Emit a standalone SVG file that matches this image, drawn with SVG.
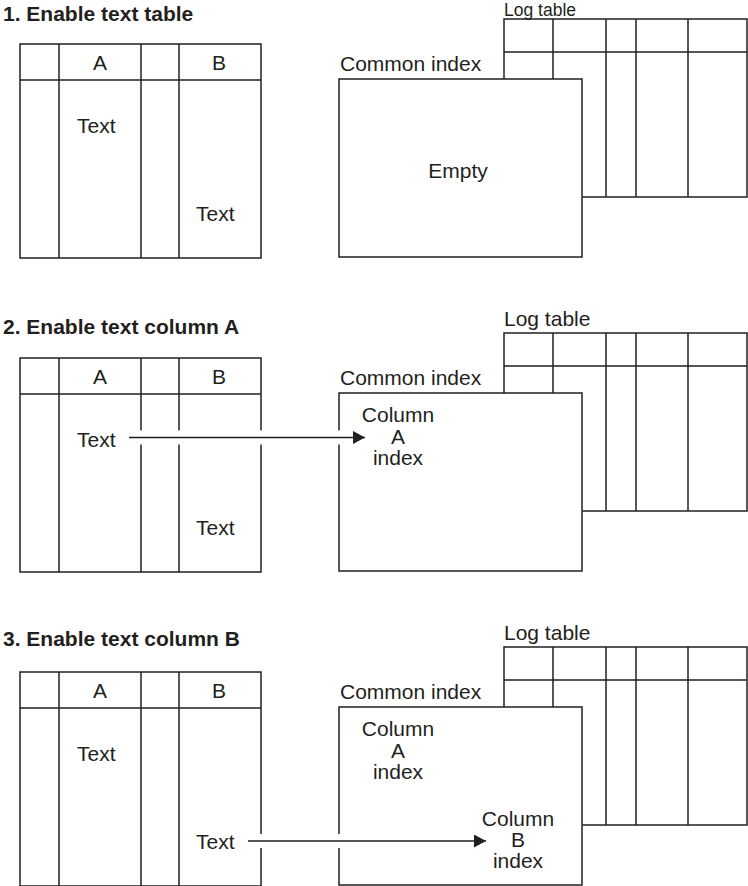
<svg xmlns="http://www.w3.org/2000/svg" width="748" height="886" viewBox="0 0 748 886">
<style>
.ln{fill:none;stroke:#231f20;stroke-width:1.5}
.box{fill:#fff;stroke:#231f20;stroke-width:1.5}
.t{font-family:"Liberation Sans",Arial,Helvetica,sans-serif;font-size:21px;fill:#231f20}
.h{font-family:"Liberation Sans",Arial,Helvetica,sans-serif;font-size:21px;font-weight:bold;fill:#231f20}
.m{text-anchor:middle}
.halo{stroke:#fff;stroke-width:14;fill:none}
.arr{stroke:#231f20;stroke-width:1.5;fill:none;marker-end:url(#ah)}
</style>
<defs>
<marker id="ah" markerUnits="userSpaceOnUse" markerWidth="14" markerHeight="14" refX="12" refY="6.5" orient="auto">
<path d="M0,0 L12,6.5 L0,13 Z" fill="#231f20"/>
</marker>
<g id="texttable">
<rect class="box" x="20" y="0" width="241" height="214"/>
<path class="ln" d="M20,36 H261 M59,0 V214 M141,0 V214 M179,0 V214"/>
</g>
<g id="logtable">
<rect class="box" x="504" y="0" width="243" height="178"/>
<path class="ln" d="M504,33 H747 M553,0 V178 M606,0 V178 M636,0 V178 M688,0 V178"/>
</g>
</defs>
<rect width="748" height="886" fill="#fff"/>

<g id="panel1">
<text class="h" x="3" y="21">1. Enable text table</text>
<g id="table1"><use href="#texttable" y="44"/>
<text class="t m" x="100" y="70">A</text><text class="t m" x="219" y="70">B</text>
<text class="t" x="77" y="133">Text</text><text class="t" x="196" y="221">Text</text></g>
<g id="log1"><use href="#logtable" y="19"/><text class="t" x="504" y="16" style="font-size:17.5px">Log table</text></g>
<g id="index1"><text class="t" x="340" y="71">Common index</text>
<rect class="box" x="339" y="79" width="243" height="178"/>
<text class="t m" x="458" y="178">Empty</text></g>
</g>

<g id="panel2">
<text class="h" x="3" y="334">2. Enable text column A</text>
<g id="table2"><use href="#texttable" y="358"/>
<text class="t m" x="100" y="384">A</text><text class="t m" x="219" y="384">B</text>
<text class="t" x="77" y="447">Text</text><text class="t" x="196" y="535">Text</text></g>
<g id="log2"><text class="t" x="504" y="326">Log table</text><use href="#logtable" y="333"/></g>
<g id="index2"><text class="t" x="340" y="385">Common index</text>
<rect class="box" x="339" y="393" width="243" height="178"/></g>
</g>

<g id="panel3">
<text class="h" x="3" y="646">3. Enable text column B</text>
<g id="table3"><use href="#texttable" y="672"/>
<text class="t m" x="100" y="698">A</text><text class="t m" x="219" y="698">B</text>
<text class="t" x="77" y="761">Text</text><text class="t" x="196" y="849">Text</text></g>
<g id="log3"><text class="t" x="504" y="640">Log table</text><use href="#logtable" y="647"/></g>
<g id="index3"><text class="t" x="340" y="699">Common index</text>
<rect class="box" x="339" y="707" width="243" height="178"/></g>
</g>

<g id="connectors">
<path class="halo" d="M133,437.5 H352"/>
<path class="arr" d="M129,437.5 H365"/>
<path class="halo" d="M252,841 H472"/>
<path class="arr" d="M248,841 H486"/>
</g>

<g id="colA2"><text class="t m" x="398" y="422">Column</text><text class="t m" x="398" y="444">A</text><text class="t m" x="398" y="465">index</text></g>
<g id="colA3"><text class="t m" x="398" y="736">Column</text><text class="t m" x="398" y="758">A</text><text class="t m" x="398" y="779">index</text></g>
<g id="colB3"><text class="t m" x="518" y="826">Column</text><text class="t m" x="518" y="847">B</text><text class="t m" x="518" y="868">index</text></g>
</svg>
